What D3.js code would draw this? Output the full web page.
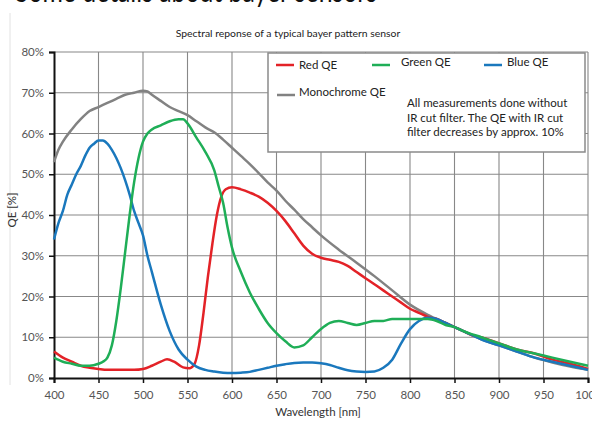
<!DOCTYPE html>
<html><head><meta charset="utf-8">
<script src="https://cdn.jsdelivr.net/npm/d3@7"></script>
<style>body{margin:0;background:#fff;}svg{display:block;}</style>
</head><body>
<svg id="c" width="592" height="421"></svg>
<script>
const title = "Spectral reponse of a typical bayer pattern sensor";
const xTicks = [400,450,500,550,600,650,700,750,800,850,900,950,1000];
const yTicks = [0,10,20,30,40,50,60,70,80];

const redWl = [400,410,420,430,440,450,460,470,480,490,500,510,520,527,535,545,552,558,563,568,573,578,583,588,593,600,610,620,630,640,650,660,670,680,690,700,710,720,730,740,750,760,770,780,790,800,810,820,830,840,850,860,870,880,900,920,940,960,980,1000];
const redQE = [6.5,5,4,3,2.5,2.2,2,2,2,2,2.2,3,4,4.6,4,2.6,2.4,3.5,8,16,25,33,40,44.5,46.3,46.8,46.3,45.5,44.5,43,41,38.5,35.5,32.5,30.5,29.5,29,28.5,27.5,26,24.5,23,21.5,20,18.5,17,16,15,14.5,13.5,12.5,11.5,10.5,10,8.5,7,6,4.5,3.5,2.2];

const greenWl = [400,410,420,430,440,450,455,460,465,470,475,480,485,490,495,500,505,510,520,530,540,545,550,560,570,580,585,590,595,600,610,620,630,640,650,660,670,680,690,700,710,720,730,740,750,760,770,780,790,800,810,820,830,840,850,860,880,900,920,940,960,980,1000];
const greenQE = [5,4,3.5,3,3,3.5,4,5,8,14,22,31,40,48,54,58,60,61,62,63,63.5,63.5,62.5,59,55.5,51,47,43,37,32,26,21,17,13.5,11,9,7.5,8,10,12,13.5,14,13.5,13,13.5,14,14,14.5,14.5,14.5,14.5,14.5,14,13,12.5,11.5,10,8.5,7,6,5,4,3];

const blueWl = [400,405,410,415,420,425,430,435,440,445,450,455,460,465,470,475,480,485,490,495,500,505,510,520,530,540,550,560,570,580,590,600,610,620,630,640,650,660,670,680,690,700,710,720,730,740,750,760,770,780,790,800,810,820,830,840,850,860,870,880,900,920,940,960,980,1000];
const blueQE = [34,38,41,45,47.5,50,52,54.5,56.5,57.5,58.3,58.3,57.5,56,54,51.5,48.5,45,41,38,35,30,26,18,11.5,7,4.5,2.8,2,1.6,1.3,1.2,1.3,1.5,2,2.5,3,3.4,3.7,3.8,3.8,3.6,3.2,2.5,1.9,1.6,1.5,1.6,2.5,4.5,8.5,12,14,14.8,14.5,13.5,12.5,11.5,10.5,9.5,8,6.5,5,4,3,2];

const monoWl = [400,405,410,420,430,440,450,460,470,480,490,500,505,510,520,530,540,550,560,570,580,590,600,610,620,630,640,650,660,670,680,690,700,720,740,760,780,800,820,840,860,880,900,920,940,960,980,1000];
const monoQE = [53,56,58,61,63.5,65.5,66.5,67.5,68.5,69.5,70,70.5,70.3,69.5,68,66.5,65.5,64.5,63,61.5,60.3,58.5,56.5,54.5,52.5,50.3,48,46,43.5,41.3,39,37,35,31.5,28.3,25,21.5,18,15.5,13.5,11.5,9.5,8,6.5,5,3.8,2.8,2];

const seriesNames = ["Red QE","Green QE","Blue QE","Monochrome QE"];
const seriesColors = ["#e32227","#1fae57","#1a78bd","#828282"];
const note = ["All measurements done without","IR cut filter. The QE with IR cut","filter decreases by approx. 10%"];

const svg = d3.select("#c");
const font = "Lato, 'Open Sans', sans-serif";
const x = d3.scaleLinear().domain([400,1000]).range([54,588]);
const y = d3.scaleLinear().domain([0,80]).range([378,52]);

// top cut-off heading (only lower edge visible, as in the reference)
svg.append("text").attr("x",15).attr("y",2).attr("font-family",font).attr("font-size",30).attr("fill","#111")
  .attr("textLength",362).attr("lengthAdjust","spacingAndGlyphs").text("Some details about bayer sensors");
// frame line
svg.append("line").attr("x1",10).attr("x2",10).attr("y1",13).attr("y2",385).attr("stroke","#e2e2e2").attr("stroke-width",1);

svg.append("text").attr("x",288).attr("y",37).attr("text-anchor","middle").attr("font-family",font).attr("font-size",10.4).attr("fill","#222").text(title);

// grid
const g = svg.append("g");
g.selectAll(".vg").data(xTicks.slice(1)).join("line").attr("x1",d=>x(d)).attr("x2",d=>x(d)).attr("y1",y(80)).attr("y2",y(0)).attr("stroke","#888").attr("stroke-width",1.1);
g.selectAll(".hg").data(yTicks.slice(1)).join("line").attr("x1",x(400)).attr("x2",x(1000)).attr("y1",d=>y(d)).attr("y2",d=>y(d)).attr("stroke","#888").attr("stroke-width",1.1);

// axes
const xa = svg.append("g").attr("transform","translate(0,"+y(0)+")").call(d3.axisBottom(x).tickValues(xTicks).tickSize(5).tickPadding(8).tickFormat(d3.format("d")));
const ya = svg.append("g").attr("transform","translate("+x(400)+",0)").call(d3.axisLeft(y).tickValues(yTicks).tickSize(5).tickPadding(5).tickFormat(d=>d+"%"));
[xa,ya].forEach(a=>{
  a.select(".domain").attr("stroke","#111").attr("stroke-width",2);
  a.selectAll(".tick line").attr("stroke","#111").attr("stroke-width",1.5);
  a.selectAll("text").attr("font-family",font).attr("font-size",11.5).attr("fill","#555");
});

svg.append("text").attr("x",318).attr("y",416).attr("text-anchor","middle").attr("font-family",font).attr("font-size",11.5).attr("fill","#333").text("Wavelength [nm]");
svg.append("text").attr("transform","translate(16,210) rotate(-90)").attr("text-anchor","middle").attr("font-family",font).attr("font-size",11.5).attr("fill","#333").text("QE [%]");

// lines
const data = [[redWl,redQE],[greenWl,greenQE],[blueWl,blueQE],[monoWl,monoQE]];
const line = d3.line().x(d=>x(d[0])).y(d=>y(d[1])).curve(d3.curveMonotoneX);
const order = [3,0,2,1];
order.forEach(i=>{
  const pts = data[i][0].map((w,k)=>[w,data[i][1][k]]);
  svg.append("path").attr("d",line(pts)).attr("fill","none").attr("stroke",seriesColors[i]).attr("stroke-width",2.5).attr("stroke-linejoin","round");
});

// legend
const lg = svg.append("g");
lg.append("rect").attr("x",268).attr("y",53).attr("width",317).attr("height",99).attr("fill","#fff").attr("stroke","#8a8a8a").attr("stroke-width",1.5);
const legPos = [[276,65],[372,65],[484,65],[277,95]];
const txtOff = [[299,69],[401,66],[507,66],[299,96]];
seriesNames.forEach((n,i)=>{
  lg.append("line").attr("x1",legPos[i][0]).attr("x2",legPos[i][0]+18).attr("y1",legPos[i][1]).attr("y2",legPos[i][1]).attr("stroke",seriesColors[i]).attr("stroke-width",2.5);
  lg.append("text").attr("x",txtOff[i][0]).attr("y",txtOff[i][1]).attr("font-family",font).attr("font-size",11.5).attr("fill","#222").text(n);
});
note.forEach((t,i)=>{
  lg.append("text").attr("x",407).attr("y",107+i*14.5).attr("font-family",font).attr("font-size",11.5).attr("fill","#222").text(t);
});
</script>
</body></html>
